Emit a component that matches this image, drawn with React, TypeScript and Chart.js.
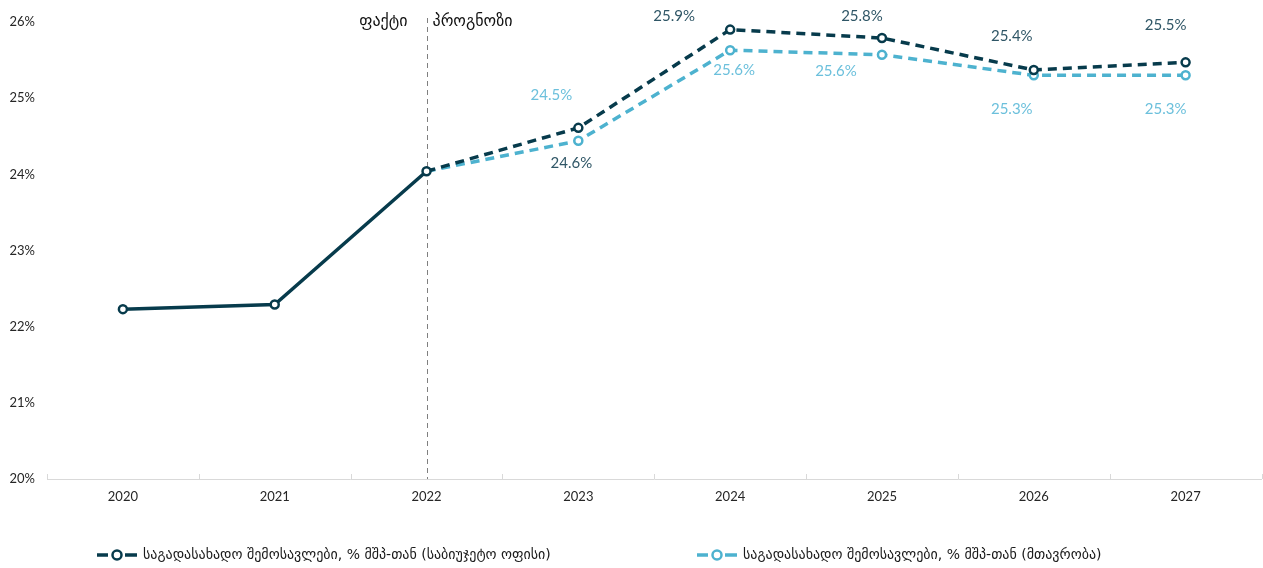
import React, { useEffect, useRef } from "react";
import { Chart, registerables } from "chart.js";

Chart.register(...registerables);

const years = ["2020", "2021", "2022", "2023", "2024", "2025", "2026", "2027"];
const budgetOffice = [22.23, 22.29, 24.04, 24.61, 25.9, 25.79, 25.37, 25.47];
const government = [null, null, 24.04, 24.44, 25.63, 25.57, 25.3, 25.3];
const budgetOfficeLabels = [null, null, null, "24.6%", "25.9%", "25.8%", "25.4%", "25.5%"];
const governmentLabels = [null, null, null, "24.5%", "25.6%", "25.6%", "25.3%", "25.3%"];
const yMin = 20;
const yMax = 26;
const yStep = 1;
const seriesNames = [
  "საგადასახადო შემოსავლები, % მშპ-თან (საბიუჯეტო ოფისი)",
  "საგადასახადო შემოსავლები, % მშპ-თან (მთავრობა)",
];
const factText = "ფაქტი";
const forecastText = "პროგნოზი";
const dividerIndex = 2;
const forecastStartIndex = 2;

// label placement offsets (px, relative to point)
const darkLabelOffsets = [null, null, null, [-7, 35], [-56, -13], [-20, -22], [-22, -34], [-20, -37]];
const lightLabelOffsets = [null, null, null, [-27, -46], [4, 20], [-46, 16], [-22, 34], [-20, 34]];

const DARK = "#073b4c";
const LIGHT = "#4db2cf";
const DARK_LABEL = "#2f5666";
const LIGHT_LABEL = "#6cc0dc";
const NUM_FONT = "Lato, 'DejaVu Sans', sans-serif";
const GEO_FONT = "'DejaVu Sans', sans-serif";

const overlayPlugin = {
  id: "overlay",
  beforeDatasetsDraw(chart: any) {
    const { ctx, chartArea, scales } = chart;
    const x = scales.x;
    ctx.save();
    ctx.strokeStyle = "#d9d9d9";
    ctx.lineWidth = 1;
    const n = years.length;
    const w = (chartArea.right - chartArea.left) / n;
    for (let i = 0; i <= n; i++) {
      const px = Math.round(chartArea.left + i * w) + 0.5;
      ctx.beginPath();
      ctx.moveTo(px, chartArea.bottom);
      ctx.lineTo(px, chartArea.bottom - 5);
      ctx.stroke();
    }
    const dx = Math.round(x.getPixelForValue(dividerIndex)) + 0.5;
    ctx.strokeStyle = "#7f7f7f";
    ctx.setLineDash([5, 4]);
    ctx.beginPath();
    ctx.moveTo(dx, chartArea.top - 4);
    ctx.lineTo(dx, chartArea.bottom);
    ctx.stroke();
    ctx.setLineDash([]);
    ctx.fillStyle = "#111";
    ctx.font = `16px ${GEO_FONT}`;
    ctx.textBaseline = "middle";
    ctx.textAlign = "right";
    ctx.fillText(factText, dx - 20, chartArea.top);
    ctx.textAlign = "left";
    ctx.fillText(forecastText, dx + 5, chartArea.top);
    ctx.restore();
  },
  afterDatasetsDraw(chart: any) {
    const { ctx, scales } = chart;
    const x = scales.x;
    const y = scales.y;
    ctx.save();
    ctx.font = `15px ${NUM_FONT}`;
    ctx.textAlign = "center";
    ctx.textBaseline = "middle";
    const drawLabels = (vals: any[], labels: any[], offs: any[], color: string) => {
      ctx.fillStyle = color;
      vals.forEach((v, i) => {
        if (v == null || !labels[i] || !offs[i]) return;
        const px = x.getPixelForValue(i);
        const py = y.getPixelForValue(v);
        ctx.fillText(labels[i], px + offs[i][0], py + offs[i][1]);
      });
    };
    drawLabels(budgetOffice, budgetOfficeLabels, darkLabelOffsets, DARK_LABEL);
    drawLabels(government, governmentLabels, lightLabelOffsets, LIGHT_LABEL);

    const ly = 555;
    const items = [
      { x: 97, color: DARK, text: seriesNames[0] },
      { x: 697, color: LIGHT, text: seriesNames[1] },
    ];
    items.forEach((it) => {
      ctx.strokeStyle = it.color;
      ctx.lineWidth = 3.5;
      ctx.beginPath();
      ctx.moveTo(it.x, ly);
      ctx.lineTo(it.x + 11, ly);
      ctx.moveTo(it.x + 28, ly);
      ctx.lineTo(it.x + 40, ly);
      ctx.stroke();
      ctx.lineWidth = 2.5;
      ctx.fillStyle = "#fff";
      ctx.beginPath();
      ctx.arc(it.x + 20, ly, 4.5, 0, Math.PI * 2);
      ctx.fill();
      ctx.stroke();
      ctx.fillStyle = "#1a1a1a";
      ctx.font = `14px ${GEO_FONT}`;
      ctx.textAlign = "left";
      ctx.fillText(it.text, it.x + 46, ly);
    });
    ctx.restore();
  },
};

export default function App() {
  const ref = useRef<HTMLCanvasElement | null>(null);
  useEffect(() => {
    if (!ref.current) return;
    const chart = new Chart(ref.current, {
      type: "line",
      data: {
        labels: years,
        datasets: [
          {
            label: seriesNames[0],
            data: budgetOffice,
            borderColor: DARK,
            borderWidth: 3.5,
            pointRadius: 4,
            pointBorderWidth: 2.5,
            pointBackgroundColor: "#fff",
            pointBorderColor: DARK,
            segment: {
              borderDash: (c: any) => (c.p0DataIndex >= forecastStartIndex ? [9, 6] : []),
            },
          },
          {
            label: seriesNames[1],
            data: government,
            borderColor: LIGHT,
            borderWidth: 3.5,
            borderDash: [9, 6],
            pointRadius: government.map((v, i) => (v == null || i <= forecastStartIndex ? 0 : 4)),
            pointBorderWidth: 2.5,
            pointBackgroundColor: "#fff",
            pointBorderColor: LIGHT,
          },
        ],
      },
      options: {
        animation: false,
        responsive: true,
        maintainAspectRatio: false,
        layout: { padding: { top: 22, right: 0, left: 0, bottom: 0 } },
        plugins: { legend: { display: false }, tooltip: { enabled: false } },
        scales: {
          x: {
            offset: true,
            grid: { display: false, drawTicks: false },
            border: { display: true, color: "#d9d9d9", width: 1 },
            ticks: { color: "#262626", font: { size: 13, family: NUM_FONT }, padding: 10 },
            afterFit: (s: any) => {
              s.height = 89;
            },
          },
          y: {
            min: yMin,
            max: yMax,
            grid: { display: false, drawTicks: false },
            border: { display: false },
            ticks: {
              stepSize: yStep,
              color: "#262626",
              font: { size: 13, family: NUM_FONT },
              padding: 12,
              callback: (v: any) => `${v}%`,
            },
            afterFit: (s: any) => {
              s.width = 47;
            },
          },
        },
      } as any,
      plugins: [overlayPlugin],
    });
    return () => chart.destroy();
  }, []);
  return (
    <div style={{ position: "absolute", left: 0, top: 0, width: 1263, height: 568, overflow: "hidden" }}>
      <div style={{ position: "relative", width: 1268, height: 568 }}>
        <canvas ref={ref} />
      </div>
    </div>
  );
}
